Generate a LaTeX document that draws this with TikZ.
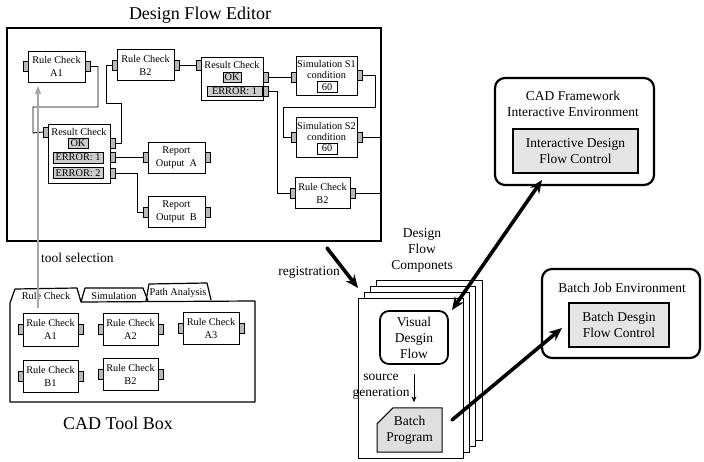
\documentclass[tikz,border=0pt]{standalone}
\usepackage{fontspec}
\setmainfont{Liberation Serif}
\usetikzlibrary{arrows.meta,shapes.misc}

\newcommand\modfnt{\fontsize{10.3}{13}\selectfont}
\newcommand\lblfnt{\fontsize{13.5}{16}\selectfont}
\newcommand\ttlfnt{\fontsize{18}{20}\selectfont}

% module box with a port on each side: name, x, y, width, height, text
\newcommand\flowmod[6]{%
  \node[modbox, minimum width=#4, minimum height=#5] (#1) at (#2,#3) {#6};
  \node[port, anchor=east] (#1-l) at (#1.west) {};
  \node[port, anchor=west] (#1-r) at (#1.east) {};
}

\begin{document}
\begin{tikzpicture}[x=1pt,y=-1pt,
  modbox/.style={draw, line width=0.8pt, fill=white, inner sep=0pt, outer sep=0pt, align=center, font=\modfnt},
  port/.style={draw, line width=0.6pt, fill=gray!55, minimum width=5pt, minimum height=10pt, inner sep=0pt, outer sep=0pt},
  flag/.style={draw, line width=0.7pt, fill=gray!40, inner sep=0.6pt, outer sep=0pt, minimum height=10pt, font=\modfnt},
  smalltxt/.style={font=\modfnt, inner sep=0pt},
  wire/.style={line width=0.9pt},
  lbl/.style={font=\lblfnt, align=center, inner sep=0pt},
  envbox/.style={draw, line width=2.2pt, rounded corners=10pt, fill=white, outer sep=0pt},
  ctrlbox/.style={draw, line width=1.2pt, fill=gray!20, font=\lblfnt, align=center, inner sep=0pt, outer sep=0pt},
  page/.style={draw, line width=0.9pt, fill=white},
  bigarrow/.style={line width=3.6pt, line cap=round},
  bighead/.tip={Stealth[length=13pt,width=11pt]}
]
\useasboundingbox (0,0) rectangle (704,462);

% ---------------- Design flow editor ----------------
\node[font=\ttlfnt, inner sep=0pt] (title) at (200,15) {Design Flow Editor};
\node[draw, line width=1.8pt, minimum width=374pt, minimum height=213pt, inner sep=0pt, outer sep=0pt] (frame) at (194,134.5) {};

\flowmod{ea1}{56.5}{66.5}{57}{31}{Rule Check\\A1}
\flowmod{eb2}{145.5}{65}{57}{31}{Rule Check\\B2}

% result check after B2
\node[modbox, minimum width=62, minimum height=43] (erc1) at (232,78.5) {};
\node[smalltxt] (erc1-t) at (232,65) {Result Check};
\node[flag, minimum width=18] (erc1-okb) at (232,77) {OK};
\node[flag, minimum width=55] (erc1-e1b) at (234.5,91) {ERROR: 1};
\node[port, anchor=east] (erc1-l) at (erc1.west |- eb2) {};
\node[port, anchor=west] (erc1-ok) at (erc1.east |- erc1-okb) {};
\node[port, anchor=west] (erc1-e1) at (erc1.east |- erc1-e1b) {};

% simulation steps
\node[modbox, minimum width=61, minimum height=39] (es1) at (326.5,75.5) {};
\node[smalltxt] (es1-t) at (326.5,64) {Simulation S1};
\node[smalltxt] (es1-c) at (326.5,75) {condition};
\node[flag, fill=white, minimum width=20, minimum height=11] (es1-v) at (327,87) {60};
\node[port, anchor=east] (es1-l) at (es1.west |- erc1-okb) {};
\node[port, anchor=west] (es1-r) at (es1.east) {};

\node[modbox, minimum width=61, minimum height=40] (es2) at (326.5,137) {};
\node[smalltxt] (es2-t) at (326.5,125.5) {Simulation S2};
\node[smalltxt] (es2-c) at (326.5,137) {condition};
\node[flag, fill=white, minimum width=20, minimum height=11] (es2-v) at (327,148.5) {60};
\node[port, anchor=east] (es2-l) at (es2.west) {};
\node[port, anchor=west] (es2-r) at (es2.east) {};

\flowmod{erb}{322.5}{193}{55}{31}{Rule Check\\B2}

% result check after A1
\node[modbox, minimum width=62, minimum height=59] (erc2) at (79,153.5) {};
\node[smalltxt] (erc2-t) at (79,132) {Result Check};
\node[flag, minimum width=20] (erc2-okb) at (78,143) {OK};
\node[flag, minimum width=50, minimum height=11] (erc2-e1b) at (78,157.5) {ERROR: 1};
\node[flag, minimum width=50, minimum height=11] (erc2-e2b) at (78,173) {ERROR: 2};
\node[port, anchor=east] (erc2-l) at (erc2.west |- erc2-t) {};
\node[port, anchor=west] (erc2-ok) at (erc2.east |- erc2-okb) {};
\node[port, anchor=west] (erc2-e1) at (erc2.east |- erc2-e1b) {};
\node[port, anchor=west] (erc2-e2) at (erc2.east |- erc2-e2b) {};

\flowmod{eroa}{176.5}{157.5}{57}{31}{Report\\Output~~A}
\flowmod{erob}{176.5}{212}{57}{31}{Report\\Output~~B}

% wiring
\draw[wire] (ea1-r.east) -- (98,66.5) -- (98,107) -- (33,107) -- (33,133) -- (erc2-l.west);
\draw[wire] (erc2-ok.east) -- (121,143) -- (121,103) -- (106,103) -- (106,65) -- (eb2-l.west);
\draw[wire] (eb2-r.east) -- (erc1-l.west);
\draw[wire] (erc1-ok.east) -- (es1-l.west);
\draw[wire] (es1-r.east) -- (375,75.5) -- (375,107) -- (283,107) -- (283,137) -- (es2-l.west);
\draw[wire] (es2-r.east) -- (es2-r.east -| frame.east);
\draw[wire] (erb-r.east) -- (erb-r.east -| frame.east);
\draw[wire] (erc1-e1.east) -- (277,91) -- (277,193) -- (erb-l.west);
\draw[wire] (erc2-e1.east) -- (eroa-l.west);
\draw[wire] (erc2-e2.east) -- (137,173) -- (137,212) -- (erob-l.west);

% ---------------- CAD tool box ----------------
\draw[line width=1.2pt, line join=round, fill=white]
  (10,402) -- (10,303) -- (15,289) -- (77,288) -- (81,302) -- (255,301) -- (255,402) -- cycle;
\draw[line width=1.2pt, line join=round] (81,302) -- (85,288) -- (143,288) -- (148,301);
\draw[line width=1.2pt, line join=round] (146,301) -- (149,284) -- (207,283) -- (211,300);
\node[smalltxt] (tab1) at (46,296) {Rule Check};
\node[smalltxt] (tab2) at (114,296) {Simulation};
\node[smalltxt] (tab3) at (178,293) {Path Analysis};

\flowmod{ta1}{50.5}{329.5}{55}{33}{Rule Check\\A1}
\flowmod{ta2}{130.5}{329}{55}{32}{Rule Check\\A2}
\flowmod{ta3}{211}{328}{56}{32}{Rule Check\\A3}
\flowmod{tb1}{50.5}{376}{55}{32}{Rule Check\\B1}
\flowmod{tb2}{130.5}{374}{55}{32}{Rule Check\\B2}

\node[font=\ttlfnt, inner sep=0pt] (tbtitle) at (118,423) {CAD Tool Box};

% tool selection
\coordinate (selsrc) at (38,308);
\coordinate (seldst) at (38,86);
\draw[gray!70, line width=1.2pt, -{Triangle[length=8pt,width=6pt]}] (selsrc) -- (seldst);
\node[lbl, anchor=west] (seltxt) at (41,258) {tool selection};

% ---------------- design flow components ----------------
\node[lbl] (dfc) at (422,250) {Design\\Flow\\Componets};
\node[page, minimum width=106, minimum height=160, inner sep=0pt] (pg4) at (429,360) {};
\node[page, minimum width=105, minimum height=160, inner sep=0pt] (pg3) at (422.5,366) {};
\node[page, minimum width=105, minimum height=160, inner sep=0pt] (pg2) at (416.5,372) {};
\node[page, minimum width=105, minimum height=160, inner sep=0pt] (pg1) at (410.5,378) {};

\node[lbl, draw, line width=1.8pt, rounded corners=9pt, minimum width=68, minimum height=53, fill=white] (vdf) at (414,337.5) {Visual\\Desgin\\Flow};
\node[chamfered rectangle, chamfered rectangle corners=north west, chamfered rectangle xsep=8pt, chamfered rectangle ysep=8pt,
      draw, line width=1pt, fill=gray!25, minimum width=65, minimum height=36, inner sep=0pt, lbl] (bp) at (409.5,430) {Batch\\Program};
\draw[line width=1pt, -{Stealth[length=6pt,width=5pt]}, shorten <=9pt, shorten >=5pt] (vdf.south) -- (vdf.south |- bp.north);
\node[lbl] (srcgen) at (381,387) {source\\generation};

% registration
\coordinate (regsrc) at (327,248);
\coordinate (regdst) at (358,288);
\draw[bigarrow, -bighead] (regsrc) -- (regdst);
\node[lbl] (regtxt) at (309,272) {registration};

% ---------------- environments ----------------
\node[envbox, minimum width=159, minimum height=107] (cadfw) at (574.5,131.5) {};
\node[lbl] (cadlbl) at (573,103.5) {CAD Framework\\Interactive Environment};
\node[ctrlbox, minimum width=125, minimum height=44] (idfc) at (575.5,151) {Interactive Design\\Flow Control};

\node[envbox, minimum width=158, minimum height=89] (bje) at (621,313.5) {};
\node[lbl] (bjelbl) at (622,288) {Batch Job Environment};
\node[ctrlbox, minimum width=100, minimum height=44] (bdfc) at (619,325) {Batch Desgin\\Flow Control};

\coordinate (pgtip) at (452,310);
\coordinate (cadtip) at (542,180);
\draw[bigarrow, bighead-bighead] (pgtip) -- (cadtip);
\coordinate (bpout) at (452,420);
\coordinate (bjetip) at (562,328);
\draw[bigarrow, -bighead] (bpout) -- (bjetip);

\end{tikzpicture}
\end{document}
